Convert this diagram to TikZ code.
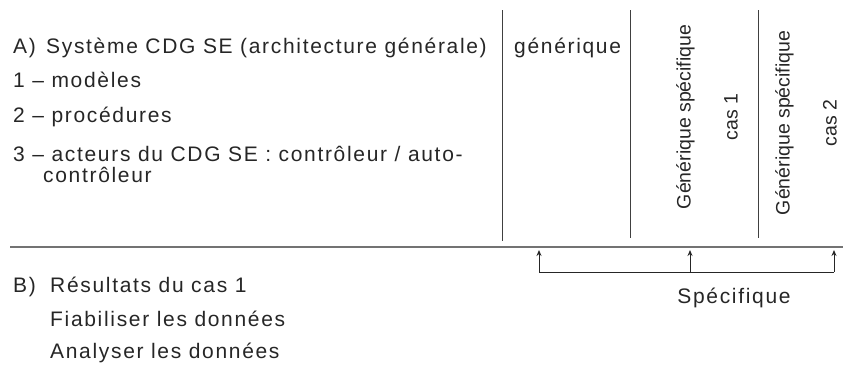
\documentclass[tikz,border=0pt]{standalone}
\usepackage{fontspec}
\setmainfont{Liberation Sans}
\newfontfamily\trackedfont[LetterSpace=8]{Liberation Sans}
\usetikzlibrary{arrows.meta}
\begin{document}
\begin{tikzpicture}[x=1pt,y=-1pt,
  txt/.style={anchor=base west,inner sep=0pt,font=\trackedfont\fontsize{21}{25}\selectfont,text=black!85},
  coltxt/.style={rotate=90,align=center,inner sep=0pt,font=\fontsize{19.5}{47}\selectfont,text=black!85},
  sep/.style={line width=1pt,draw=black!75},
  hsep/.style={line width=1.2pt,draw=black!55},
  conn/.style={line width=1pt,draw=black!85},
  arr/.style={conn,-{Stealth[length=6pt,width=5pt]}}]
\useasboundingbox (0,0) rectangle (843,367);
% separators
\draw[sep] (502,10) coordinate (v1t) -- (502,241) coordinate (v1b);
\draw[sep] (630,10) coordinate (v2t) -- (630,238) coordinate (v2b);
\draw[sep] (758,10) coordinate (v3t) -- (758,238) coordinate (v3b);
\draw[hsep] (10,247) coordinate (hl) -- (843,247) coordinate (hr);
% left text
\node[txt] (a) at (13,53) {A)};
\node[txt] (asys) at (46,53) {Système CDG SE (architecture générale)};
\node[txt] (a1) at (13,87) {1 – modèles};
\node[txt] (a2) at (13,122) {2 – procédures};
\node[txt] (a3) at (13,161) {3 – acteurs du CDG SE : contrôleur / auto-};
\node[txt] (a3b) at (43,182) {contrôleur};
% columns
\node[txt] (gen) at (514,53) {générique};
\node[coltxt] (c1) at (707,117) {Générique spécifique\\cas 1};
\node[coltxt] (c2) at (806,123) {Générique spécifique\\cas 2};
% bottom text
\node[txt] (b) at (13,292) {B)};
\node[txt] (bres) at (50,292) {Résultats du cas 1};
\node[txt] (bfia) at (50,326) {Fiabiliser les données};
\node[txt] (bana) at (50,358) {Analyser les données};
\node[txt,anchor=base] (spec) at (734,303) {Spécifique};
% arrows
\coordinate (p1) at (539,272);
\coordinate (p2) at (690,272);
\coordinate (p3) at (834,272);
\coordinate (t1) at (539,250);
\coordinate (t2) at (690,250);
\coordinate (t3) at (834,250);
\draw[conn] (p1) -- (p3);
\draw[arr] (p1) -- (t1);
\draw[arr] (p2) -- (t2);
\draw[arr] (p3) -- (t3);
\end{tikzpicture}
\end{document}
